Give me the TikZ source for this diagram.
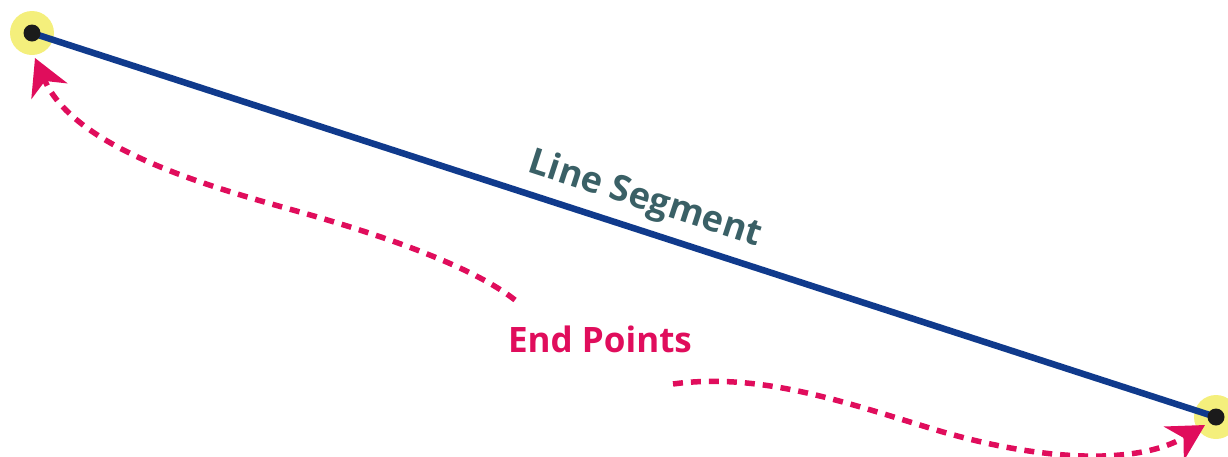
\documentclass[tikz,border=0pt]{standalone}
\usepackage{fontspec}
\setmainfont{Open Sans}
\usetikzlibrary{arrows.meta}
\definecolor{halocol}{RGB}{244,239,124}
\definecolor{dotcol}{RGB}{27,27,27}
\definecolor{segcol}{RGB}{16,58,140}
\definecolor{pinkcol}{RGB}{224,13,92}
\definecolor{tealcol}{RGB}{58,96,102}
\tikzset{
  halo/.style={circle, fill=halocol, minimum size=44pt, inner sep=0pt},
  enddot/.style={circle, fill=dotcol, minimum size=17pt, inner sep=0pt},
  seg/.style={draw=segcol, line width=6.5pt},
  pointer/.style={draw=pinkcol, line width=5.5pt, dash pattern=on 10pt off 8pt,
    -{Stealth[length=36pt, width=39pt, inset=11pt, fill=pinkcol]}},
  seglabel/.style={text=tealcol, font=\bfseries\fontsize{36}{40}\selectfont, inner sep=0pt},
  eplabel/.style={text=pinkcol, font=\bfseries\fontsize{35}{40}\selectfont, inner sep=0pt}
}
\begin{document}
\begin{tikzpicture}[x=1pt, y=-1pt]
\useasboundingbox (0,0) rectangle (1228,456);
\node[halo] (hA) at (32,33) {};
\node[halo] (hB) at (1216,417) {};
\draw[seg] (hA.center) -- (hB.center);
\node[enddot] (A) at (32,33) {};
\node[enddot] (B) at (1216,417) {};
\node[seglabel, anchor=base, rotate=-18] (ls) at (642,209) {Line Segment};
\node[eplabel, anchor=base] (ep) at (600,352) {End Points};
\coordinate (s1) at (515,300);
\coordinate (t1) at (35,58);
\coordinate (s2) at (673,384);
\coordinate (t2) at (1205,425);
\draw[pointer] (s1) .. controls (468,263) and (367,231) .. (300,212)
  .. controls (214,188) and (75,150) .. (t1);
\draw[pointer] (s2) .. controls (761,372) and (847,403) .. (933,429)
  .. controls (1038,461) and (1136,466) .. (t2);
\end{tikzpicture}
\end{document}
